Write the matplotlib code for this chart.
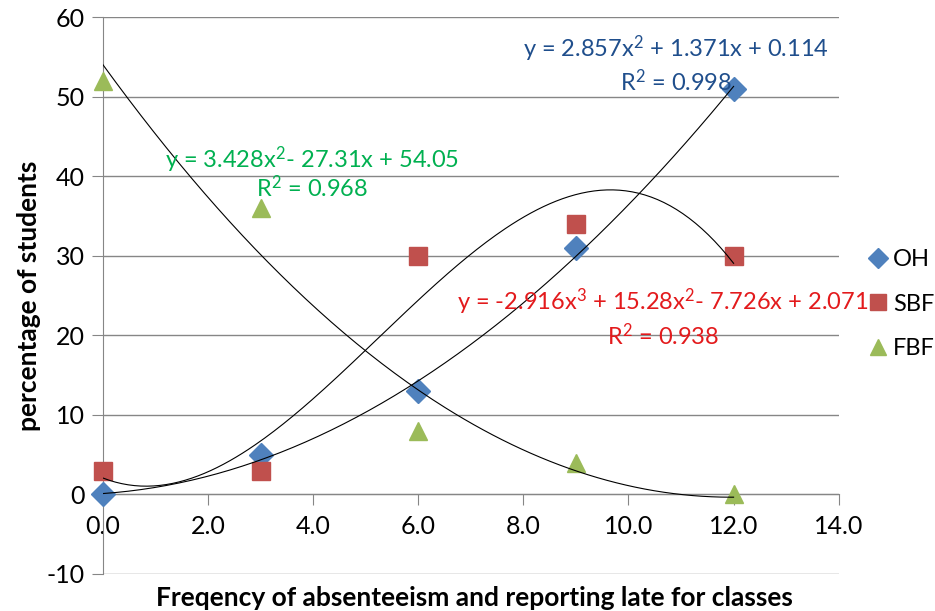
import numpy as np
import matplotlib
matplotlib.use("Agg")
import matplotlib.pyplot as plt

plt.rcParams['font.family'] = ['Lato', 'DejaVu Sans']
plt.rcParams['mathtext.fontset'] = 'custom'
plt.rcParams['mathtext.rm'] = 'Lato'
plt.rcParams['mathtext.it'] = 'Lato'
plt.rcParams['axes.unicode_minus'] = False

# frequency of absenteeism (x) and percentage of students per group
freq = [0, 3, 6, 9, 12]
oh = [0, 5, 13, 31, 51]
sbf = [3, 3, 30, 34, 30]
fbf = [52, 36, 8, 4, 0]

series = [
    ("OH", oh, "D", "#4F81BD", 2),
    ("SBF", sbf, "s", "#C0504D", 3),
    ("FBF", fbf, "^", "#9BBB59", 2),
]

# trendline labels as shown by the spreadsheet
eq_text = {
    "OH": (r"y = 2.857x$^{2}$ + 1.371x + 0.114", r"R$^{2}$ = 0.998", "#1F4E8C", 10.9, 56.0, 51.9),
    "SBF": (r"y = -2.916x$^{3}$ + 15.28x$^{2}$- 7.726x + 2.071", r"R$^{2}$ = 0.938", "#E31A1C", 10.65, 24.2, 20.0),
    "FBF": (r"y = 3.428x$^{2}$- 27.31x + 54.05", r"R$^{2}$ = 0.968", "#00B050", 3.98, 42.1, 38.6),
}

fig = plt.figure(figsize=(9.35, 6.11), dpi=100)
ax = fig.add_axes([0.110, 0.0606, 0.787, 0.911])

xs = np.array(freq, dtype=float)
xfine = np.linspace(0, 12, 200)
msizes = {"D": 12.5, "s": 13.5, "^": 13.5}
for name, vals, mk, col, deg in series:
    ax.plot(freq, vals, linestyle="none", marker=mk, color=col,
            markersize=msizes[mk], label=name, zorder=3, clip_on=False)
    coef = np.polyfit(xs, np.array(vals, dtype=float), deg)
    ax.plot(xfine, np.polyval(coef, xfine), color="black", lw=0.8, zorder=4)

for name, (eq, r2, col, tx, ty1, ty2) in eq_text.items():
    ax.text(tx, ty1, eq, color=col, fontsize=17, ha="center", va="center", zorder=5)
    ax.text(tx, ty2, r2, color=col, fontsize=17, ha="center", va="center", zorder=5)

ax.set_xlim(0, 14)
ax.set_ylim(-10, 60)
ax.set_yticks(range(-10, 61, 10))
ax.set_xticks(np.arange(0, 14.1, 2))
ax.set_xticklabels(["%.1f" % v for v in np.arange(0, 14.1, 2)])
ax.yaxis.grid(True, color="#868686", lw=1)
ax.set_axisbelow(True)

ax.spines["bottom"].set_position(("data", 0))
ax.spines["bottom"].set_color("#868686")
ax.spines["left"].set_color("#868686")
ax.spines["right"].set_visible(False)
ax.spines["top"].set_visible(False)
ax.tick_params(axis="x", direction="out", length=8, color="#868686", labelsize=18, pad=7)
ax.tick_params(axis="y", direction="out", length=8, color="#868686", labelsize=18, pad=5)

ax.set_ylabel("percentage of students", fontsize=19, fontweight="bold", labelpad=4)
fig.text(0.507, 0.022, "Freqency of absenteeism and reporting late for classes",
         fontsize=19, fontweight="bold", ha="center", va="center")

ax.legend(loc="center left", bbox_to_anchor=(1.01, 0.485), frameon=False,
          fontsize=17, handletextpad=0.0, labelspacing=1.0, borderaxespad=0.3,
          handlelength=1.3, markerscale=0.85)

fig.savefig("out.png", dpi=100)
